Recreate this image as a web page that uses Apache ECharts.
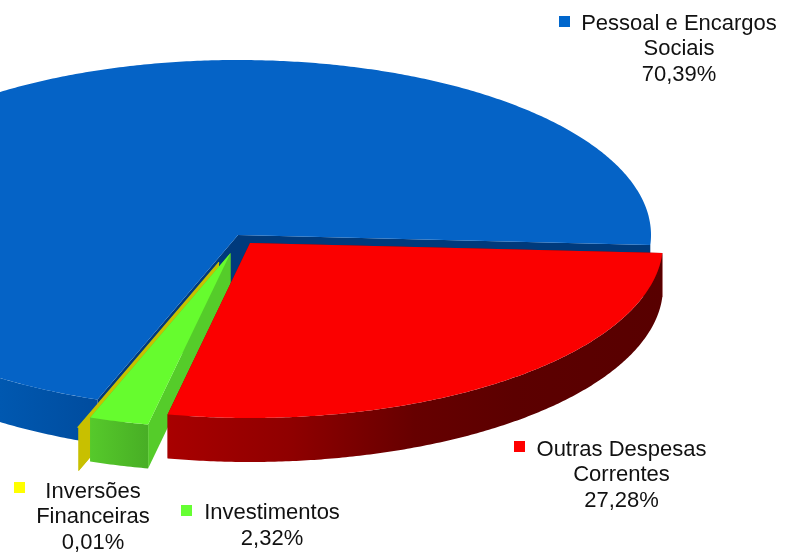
<!DOCTYPE html>
<html>
<head>
<meta charset="utf-8">
<title>Despesas</title>
<style>
  html, body { margin: 0; padding: 0; background: #fff; }
  #chart { width: 790px; height: 553px; }
</style>
<script src="https://cdn.jsdelivr.net/npm/echarts@6/dist/echarts.min.js"></script>
</head>
<body>
<div id="chart"></div>
<script>
// slices in clockwise order, starting from the right of the pie
const categories = ['Outras Despesas\nCorrentes', 'Investimentos', 'Inversões\nFinanceiras', 'Pessoal e Encargos\nSociais'];
const values = [27.28, 2.32, 0.01, 70.39];

const RX = 413;
const RY = 175;
const DEPTH = 44;
const START_ANGLE = 3.3;

// exploded centre of each slice
const centers = [[250, 243], [230.5, 253], [219, 262.5], [238, 235]];
const topColors = ['#fb0000', '#66fc2e', '#ffff00', '#0563c6'];
const edgeColors = ['#8a0000', '#55cc2a', '#c8c000', '#003a7c'];
const rimStops = [
  [[0, '#a80000'], [0.25, '#8f0000'], [0.5, '#660000'], [0.7, '#5c0000'], [1, '#580000']],
  [[0, '#56c92b'], [1, '#48ae25']],
  [[0, '#c8c000'], [1, '#c8c000']],
  [[0, '#0058b0'], [1, '#004c9e']]
];
const legendCenters = [[621.5, 475], [272, 526], [93, 517], [679, 49]];
const legendMarkers = [[514, 441], [181, 505], [14, 482], [559, 16]];
const legendColors = ['#ff0000', '#66ff33', '#ffff00', '#0066cc'];

const total = values.reduce((a, b) => a + b, 0);
let cursor = START_ANGLE;
const spans = values.map((v) => {
  const from = cursor;
  cursor += v / total * 360;
  return [from, cursor];
});

function rimPoint(c, deg, drop) {
  const a = deg * Math.PI / 180;
  return [c[0] + RX * Math.cos(a), c[1] + RY * Math.sin(a) + (drop || 0)];
}

function arcPoints(c, from, to, drop) {
  const pts = [];
  const steps = Math.max(1, Math.ceil((to - from) * 2));
  for (let i = 0; i <= steps; i++) {
    pts.push(rimPoint(c, from + (to - from) * i / steps, drop));
  }
  return pts;
}

function poly(points, fill, stroke) {
  return {
    type: 'polygon',
    shape: { points: points },
    style: { fill: fill, stroke: stroke || null, lineWidth: stroke ? 1.5 : 0 }
  };
}

function radialWall(c, deg, fill) {
  const a = rimPoint(c, deg);
  const b = rimPoint(c, deg, DEPTH);
  return poly([c, a, b, [c[0], c[1] + DEPTH]], fill);
}

function renderSlice(params, api) {
  const i = api.value(0);
  const c = centers[i];
  const from = spans[i][0];
  const to = spans[i][1];
  const children = [
    radialWall(c, to, edgeColors[i]),
    radialWall(c, from, edgeColors[i])
  ];

  // outer wall, only the front half of the rim shows
  const frontEnd = Math.min(to, 180);
  if (from < frontEnd) {
    const top = arcPoints(c, from, frontEnd, 0);
    const bottom = arcPoints(c, from, frontEnd, DEPTH).reverse();
    const xs = top.map((p) => p[0]);
    children.push(poly(top.concat(bottom), {
      type: 'linear',
      x: Math.max(0, Math.min.apply(null, xs)),
      y: 0,
      x2: Math.max.apply(null, xs),
      y2: 0,
      global: true,
      colorStops: rimStops[i].map((s) => ({ offset: s[0], color: s[1] }))
    }));
  }

  const isSliver = to - from < 1;
  children.push(poly([c].concat(arcPoints(c, from, to, 0)), topColors[i], isSliver ? edgeColors[i] : null));
  return { type: 'group', children: children };
}

function percentText(v) {
  return v.toFixed(2).replace('.', ',') + '%';
}

const legendItems = [];
categories.forEach((name, i) => {
  legendItems.push({
    type: 'rect',
    shape: { x: legendMarkers[i][0], y: legendMarkers[i][1], width: 11, height: 11 },
    style: { fill: legendColors[i] }
  });
  legendItems.push({
    type: 'text',
    x: legendCenters[i][0],
    y: legendCenters[i][1],
    style: {
      text: name + '\n' + percentText(values[i]),
      font: '22px "Liberation Sans", Arial, sans-serif',
      lineHeight: 25.5,
      fill: '#111',
      align: 'center',
      verticalAlign: 'middle'
    }
  });
});

const chart = echarts.init(document.getElementById('chart'), null, { renderer: 'canvas' });
chart.setOption({
  animation: false,
  backgroundColor: '#fff',
  graphic: { elements: legendItems },
  series: [{
    type: 'custom',
    coordinateSystem: 'none',
    silent: true,
    renderItem: renderSlice,
    encode: { value: 1 },
    // drawn back to front, so the big slice goes first
    data: [3, 2, 1, 0].map((i) => ({ name: categories[i], value: [i, values[i]] }))
  }]
});
</script>
</body>
</html>
